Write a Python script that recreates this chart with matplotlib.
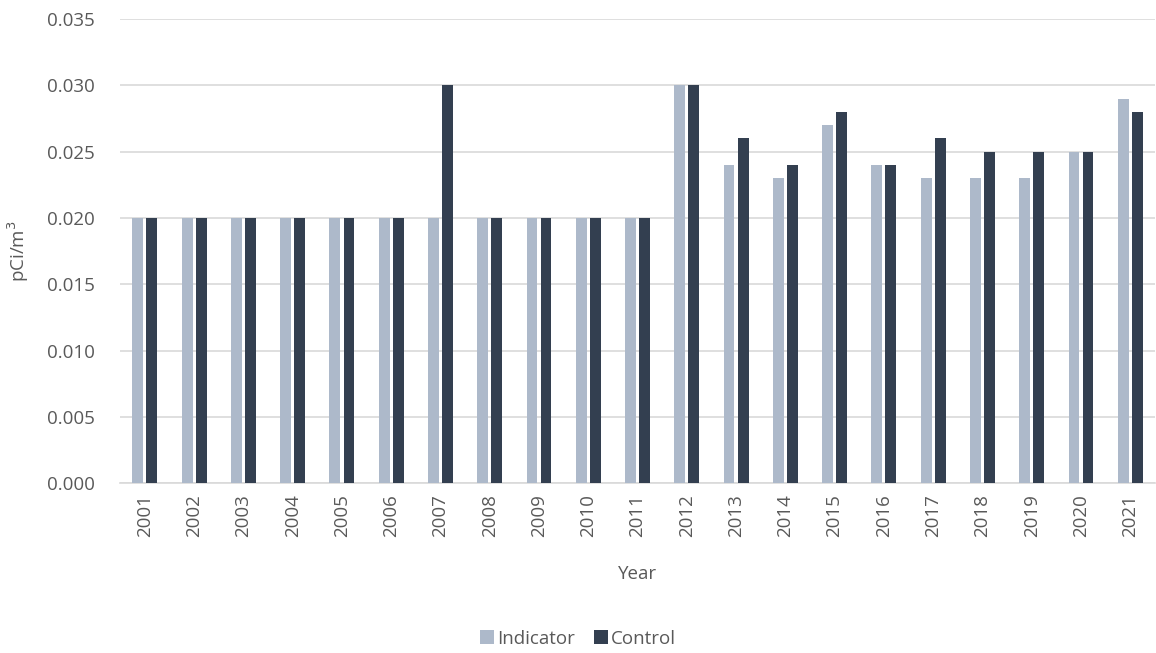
import matplotlib.pyplot as plt
import numpy as np

years = [str(y) for y in range(2001, 2022)]
indicator = [0.020, 0.020, 0.020, 0.020, 0.020, 0.020, 0.020, 0.020, 0.020, 0.020, 0.020,
             0.030, 0.024, 0.023, 0.027, 0.024, 0.023, 0.023, 0.023, 0.025, 0.029]
control = [0.020, 0.020, 0.020, 0.020, 0.020, 0.020, 0.030, 0.020, 0.020, 0.020, 0.020,
           0.030, 0.026, 0.024, 0.028, 0.024, 0.026, 0.025, 0.025, 0.025, 0.028]

plt.rcParams['font.family'] = ['Open Sans', 'DejaVu Sans']
text_col = '#595959'
fs = 13.5

fig = plt.figure(figsize=(11.56, 6.53), dpi=100)
ax = fig.add_axes([0.104, 0.260, 0.895, 0.711])

x = np.arange(len(years))
w = 0.22
gap = 0.065
ax.bar(x - (w + gap) / 2, indicator, w, color='#ADB9CA', label='Indicator', zorder=3)
ax.bar(x + (w + gap) / 2, control, w, color='#333F50', label='Control', zorder=3)

ax.set_xlim(-0.5, len(years) - 0.5)
ax.set_ylim(0, 0.035)
ticks = np.arange(0, 0.0351, 0.005)
ax.set_yticks(ticks)
ax.set_yticklabels([f'{v:.3f}' for v in ticks], fontsize=fs, color=text_col)
ax.set_xticks(x)
ax.set_xticklabels(years, rotation=90, fontsize=fs, color=text_col)
ax.tick_params(axis='y', length=0, pad=18)
ax.tick_params(axis='x', length=0, pad=8)
ax.yaxis.grid(True, color='#D9D9D9', linewidth=1.2, zorder=0)
for s in ['top', 'right', 'left']:
    ax.spines[s].set_visible(False)
ax.spines['bottom'].set_color('#D9D9D9')
ax.spines['bottom'].set_linewidth(1.2)

ax.set_xlabel('Year', fontsize=fs, color=text_col, labelpad=20)
ax.set_ylabel('pCi/m$^3$', fontsize=fs, color=text_col, labelpad=12)

fig.legend(loc='lower center', bbox_to_anchor=(0.5, -0.018), ncol=2, frameon=False,
           fontsize=fs, labelcolor=text_col, handlelength=0.75, handleheight=0.75,
           handletextpad=0.15, columnspacing=1.0)

fig.savefig('out.png', dpi=100)
